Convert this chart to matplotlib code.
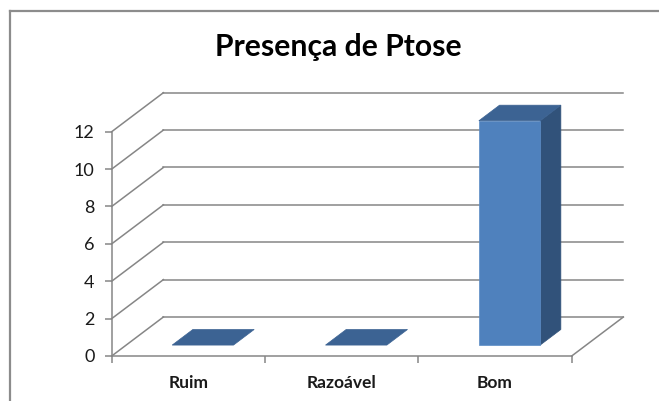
import matplotlib
matplotlib.use("Agg")
import matplotlib.pyplot as plt
from matplotlib.patches import Polygon, Rectangle
from matplotlib.lines import Line2D

categories = ["Ruim", "Razoável", "Bom"]
values = [0, 0, 12]
y_ticks = [0, 2, 4, 6, 8, 10, 12]
title = "Presença de Ptose"

# ─────────────────────────────────────────
#  Layout (pixels, figure 659x401)
# ─────────────────────────────────────────
W, H = 659, 401
AX_L, AX_R = 111.7, 571.7      # front plot area, x
AX_B, AX_T = 356.0, 131.7      # front plot area, y (from top)
DEPTH_X, DEPTH_Y = 51.7, 39.0  # 3d depth offset in pixels
BAR_F0, BAR_F1 = 0.28, 0.68    # bar position inside depth
BAR_HALF = 0.2

GRID = "#868686"
FRONT = "#4F81BD"
SIDE = "#31527A"
TOP = "#3C6393"

plt.rcParams["font.family"] = ["Lato", "DejaVu Sans"]

fig = plt.figure(figsize=(W / 100, H / 100), dpi=100)
fig.patch.set_facecolor("white")

ax = fig.add_axes([AX_L / W, 1 - AX_B / H, (AX_R - AX_L) / W, (AX_B - AX_T) / H])
ax.set_xlim(-0.5, len(categories) - 0.5)
ax.set_ylim(0, max(y_ticks))
ax.patch.set_visible(False)

# depth offset in data units
px_x = (AX_R - AX_L) / len(categories)
px_y = (AX_B - AX_T) / max(y_ticks)
dx = DEPTH_X / px_x
dy = DEPTH_Y / px_y

x0, x1 = -0.5, len(categories) - 0.5

# back wall gridlines + left wall diagonals
for v in y_ticks:
    ax.add_line(Line2D([x0 + dx, x1 + dx], [v + dy, v + dy], color=GRID,
                       lw=1.1, clip_on=False, zorder=1))
    ax.add_line(Line2D([x0, x0 + dx], [v, v + dy], color=GRID,
                       lw=1.1, clip_on=False, zorder=1))

# floor right edge
ax.add_line(Line2D([x1, x1 + dx], [0, dy], color=GRID, lw=1.1,
                   clip_on=False, zorder=1))

# bars
for i, v in enumerate(values):
    xa = i - BAR_HALF + BAR_F0 * dx
    xb = i + BAR_HALF + BAR_F0 * dx
    yb = BAR_F0 * dy
    ddx = (BAR_F1 - BAR_F0) * dx
    ddy = (BAR_F1 - BAR_F0) * dy
    if v > 0:
        ax.add_patch(Polygon([(xb, yb), (xb + ddx, yb + ddy),
                              (xb + ddx, yb + ddy + v), (xb, yb + v)],
                             closed=True, fc=SIDE, ec=SIDE, lw=0.5,
                             clip_on=False, zorder=3))
        ax.add_patch(Rectangle((xa, yb), xb - xa, v, fc=FRONT, ec="#5B8CC6",
                               lw=0.5, clip_on=False, zorder=3))
    ax.add_patch(Polygon([(xa, yb + v), (xb, yb + v),
                          (xb + ddx, yb + v + ddy), (xa + ddx, yb + v + ddy)],
                         closed=True, fc=TOP, ec=TOP, lw=0.5,
                         clip_on=False, zorder=4))

# axes styling
for side in ["top", "right"]:
    ax.spines[side].set_visible(False)
for side in ["left", "bottom"]:
    ax.spines[side].set_color(GRID)
    ax.spines[side].set_linewidth(1.1)

ax.set_yticks(y_ticks)
ax.set_yticklabels([str(t) for t in y_ticks])
ax.tick_params(axis="y", direction="out", length=4.7, width=1.1,
               color=GRID, pad=7.6, labelsize=13, labelcolor="#1a1a1a")

ax.set_xticks(range(len(categories)))
ax.set_xticklabels(categories, fontweight="bold")
ax.set_xticks([i - 0.5 for i in range(len(categories) + 1)], minor=True)
ax.tick_params(axis="x", which="major", length=0, pad=13.5, labelsize=12.5,
               labelcolor="#1a1a1a")
ax.tick_params(axis="x", which="minor", direction="out", length=4.8,
               width=1.1, color=GRID)

# title
fig.text(338.8 / W, 1 - 56 / H, title, ha="center", va="baseline",
         fontsize=21.7, fontweight="bold", color="black")

# chart border (left and top visible)
fig.add_artist(Line2D([9.5 / W, 9.5 / W], [0, 1 - 10.5 / H],
                      transform=fig.transFigure, color="#8C8C8C", lw=1.6))
fig.add_artist(Line2D([9.5 / W, 1], [1 - 10.5 / H, 1 - 10.5 / H],
                      transform=fig.transFigure, color="#8C8C8C", lw=1.6))

fig.savefig("out.png", dpi=100)
